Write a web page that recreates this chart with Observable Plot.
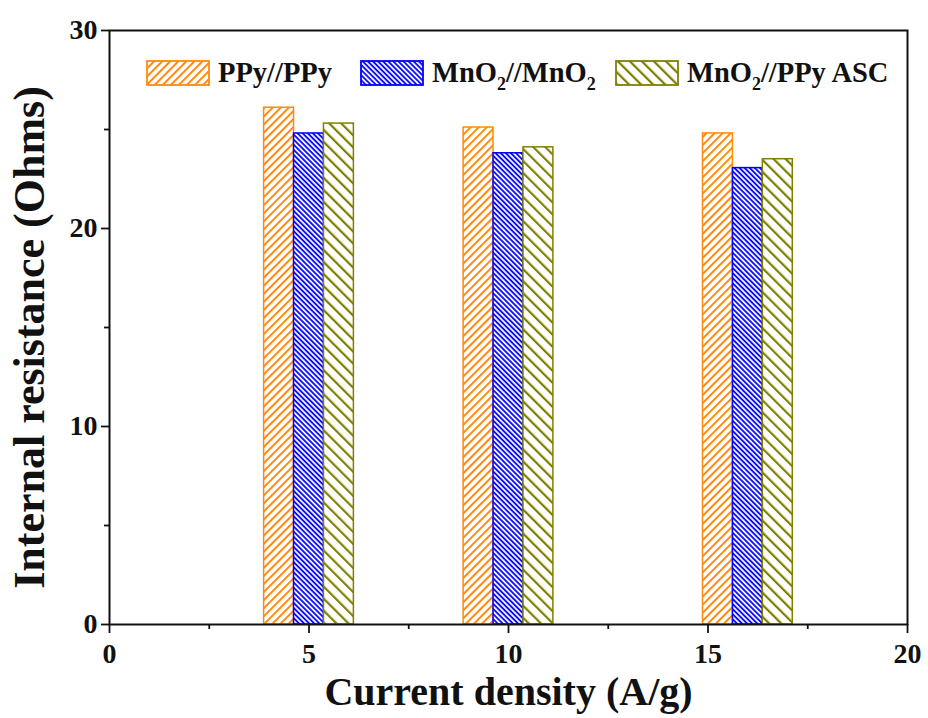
<!DOCTYPE html>
<html>
<head>
<meta charset="utf-8">
<script src="https://cdn.jsdelivr.net/npm/d3@7"></script>
<script src="https://cdn.jsdelivr.net/npm/@observablehq/plot@0.6"></script>
<style>
  html, body { margin: 0; padding: 0; background: #fff; }
  #wrap { position: relative; width: 928px; height: 718px; font-family: "Liberation Serif", "Times New Roman", serif; }
  .leg { position: absolute; top: 57px; display: flex; align-items: center; font-weight: bold; font-size: 28.5px; color: #111; white-space: nowrap; }
  .leg svg { display: block; margin-right: 8px; }
  .leg sub { font-size: 18px; vertical-align: -8px; line-height: 0; }
</style>
</head>
<body>
<svg width="0" height="0" style="position:absolute">
  <defs>
    <pattern id="hatch-orange" patternUnits="userSpaceOnUse" width="5.7" height="5.7" patternTransform="rotate(45)">
      <rect width="5.7" height="5.7" fill="#fff"/>
      <line x1="1" y1="0" x2="1" y2="5.7" stroke="#ff8a10" stroke-width="2"/>
    </pattern>
    <pattern id="hatch-blue" patternUnits="userSpaceOnUse" width="3.6" height="3.6" patternTransform="rotate(-45)">
      <rect width="3.6" height="3.6" fill="#fff"/>
      <line x1="1" y1="0" x2="1" y2="3.6" stroke="#0000ff" stroke-width="1.8"/>
    </pattern>
    <pattern id="hatch-olive" patternUnits="userSpaceOnUse" width="8.5" height="8.5" patternTransform="rotate(-45)">
      <rect width="8.5" height="8.5" fill="#fff"/>
      <line x1="1" y1="0" x2="1" y2="8.5" stroke="#808000" stroke-width="2.4"/>
    </pattern>
  </defs>
</svg>
<div id="wrap"></div>
<script>
// ---- data ----
const densities = [5, 10, 16];            // group centres (A/g) as drawn
const seriesNames = ["PPy//PPy", "MnO2//MnO2", "MnO2//PPy ASC"];
const ppy = [26.1, 25.1, 24.8];
const mno2 = [24.8, 23.8, 23.05];
const asc = [25.3, 24.1, 23.5];
const xTicks = [0, 5, 10, 15, 20];
const yTicks = [0, 10, 20, 30];

const seriesValues = [ppy, mno2, asc];
const seriesColors = ["#ff8a10", "#0000ff", "#808000"];
const seriesFills = ["url(#hatch-orange)", "url(#hatch-blue)", "url(#hatch-olive)"];
const barW = 0.75;

const rows = [];
seriesValues.forEach((vals, s) => {
  vals.forEach((v, i) => {
    const c = densities[i] + (s - 1) * barW;
    rows.push({series: seriesNames[s], s, x1: c - barW / 2, x2: c + barW / 2, y: v});
  });
});

const font = "Liberation Serif";
const plot = Plot.plot({
  width: 928,
  height: 718,
  marginLeft: 109,
  marginRight: 21,
  marginTop: 30,
  marginBottom: 94,
  style: {fontFamily: font, fontWeight: "bold", background: "#fff", color: "#111"},
  x: {domain: [0, 20]},
  y: {domain: [0, 30]},
  marks: [
    Plot.rectY(rows.filter(d => d.s === 0), {x1: "x1", x2: "x2", y: "y", fill: seriesFills[0], stroke: seriesColors[0], strokeWidth: 1.5}),
    Plot.rectY(rows.filter(d => d.s === 1), {x1: "x1", x2: "x2", y: "y", fill: seriesFills[1], stroke: seriesColors[1], strokeWidth: 1.5}),
    Plot.rectY(rows.filter(d => d.s === 2), {x1: "x1", x2: "x2", y: "y", fill: seriesFills[2], stroke: seriesColors[2], strokeWidth: 1.5}),
    Plot.axisX({ticks: xTicks, tickSize: 9, tickPadding: 10, strokeWidth: 1.8, fontSize: 28, label: "Current density (A/g)", labelAnchor: "center", labelArrow: "none", labelOffset: 80}),
    Plot.axisX({ticks: [2.5, 7.5, 12.5, 17.5], tickSize: 5, strokeWidth: 1.8, text: null, label: null}),
    Plot.axisY({ticks: yTicks, tickSize: 8, tickPadding: 4, strokeWidth: 1.8, fontSize: 28, label: "Internal resistance (Ohms)", labelAnchor: "center", labelArrow: "none", labelOffset: 97}),
    Plot.axisY({ticks: [5, 15, 25], tickSize: 5, strokeWidth: 1.8, text: null, label: null}),
    Plot.frame({stroke: "#111", strokeWidth: 2})
  ]
});
// axis titles sizes
d3.select(plot).selectAll("g[aria-label='x-axis label'] text").attr("font-size", 40);
d3.select(plot).selectAll("g[aria-label='y-axis label'] text").attr("font-size", 44);
d3.select(plot).selectAll("g[aria-label='y-axis label']").each(function() {
  const t = this.getAttribute("transform") || "";
  this.setAttribute("transform", "translate(0,10) " + t);
});
document.getElementById("wrap").appendChild(plot);

// ---- legend overlay ----
const legendHTML = [
  "PPy//PPy",
  "MnO<sub>2</sub>//MnO<sub>2</sub>",
  "MnO<sub>2</sub>//PPy ASC"
];
const legendLeft = [146, 360, 615];
seriesNames.forEach((name, s) => {
  const div = document.createElement("div");
  div.className = "leg";
  div.style.left = legendLeft[s] + "px";
  div.innerHTML = `<svg width="64" height="26"><rect x="1" y="1" width="62" height="24" fill="${seriesFills[s]}" stroke="${seriesColors[s]}" stroke-width="1.8"/></svg><span>${legendHTML[s]}</span>`;
  document.getElementById("wrap").appendChild(div);
});
</script>
</body>
</html>
